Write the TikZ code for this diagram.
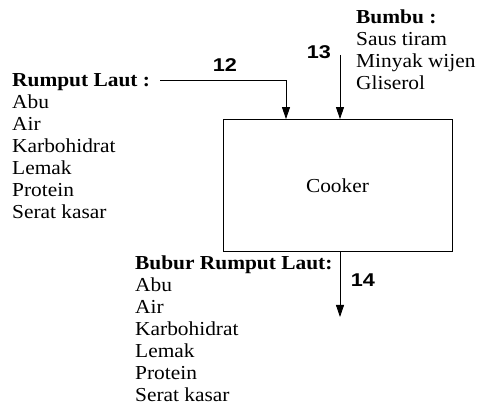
\documentclass[tikz,border=0pt]{standalone}
\usepackage{fontspec}
\setmainfont{Liberation Serif}[FakeStretch=1.08]
\newfontfamily\numfont{Liberation Sans}[FakeStretch=1.17]
\usetikzlibrary{arrows.meta,positioning}
\tikzstyle{list}=[inner sep=0pt, align=left, anchor=north west,
		font=\fontsize{19.8}{22}\selectfont]
\tikzstyle{num}=[inner sep=0pt, font=\numfont\bfseries\fontsize{18.5}{18.5}\selectfont]
\tikzstyle{flow}=[-{Triangle[length=12pt,width=8pt]}, line width=0.8pt]
\tikzstyle{unit}=[rectangle, draw, line width=0.8pt, minimum width=229pt,
		minimum height=132pt, font=\fontsize{19.8}{22}\selectfont]

\begin{document}
\begin{tikzpicture}[x=1pt,y=-1pt]
    \useasboundingbox (0,0) rectangle (480,411);

    \node (Cooker) at (337.5,185.5) [unit] {Cooker};

    % inputs
    \node (Rumput) at (12,73) [list] {
      \textbf{Rumput Laut :}\\
      Abu\\
      Air\\
      Karbohidrat\\
      Lemak\\
      Protein\\
      Serat kasar};

    \node (Bumbu) at (356,10) [list] {
      \textbf{Bumbu :}\\
      Saus tiram\\
      Minyak wijen\\
      Gliserol};

    % output
    \node (Bubur) at (135,256) [list] {
      \textbf{Bubur Rumput Laut:}\\
      Abu\\
      Air\\
      Karbohidrat\\
      Lemak\\
      Protein\\
      Serat kasar};

    \coordinate (in12) at (160,80);
    \coordinate (in13) at (340,55);
    \coordinate (out14) at (340,317);

    \draw[flow] (in12) -| ([xshift=-51.5pt]Cooker.north);
    \draw[flow] (in13) -- ([xshift=2.5pt]Cooker.north);
    \draw[flow] ([xshift=2.5pt]Cooker.south) -- (out14);

    \node (n12) at (225,65) [num] {12};
    \node (n13) at (319,52) [num] {13};
    \node (n14) at (363,280) [num] {14};

\end{tikzpicture}
\end{document}
